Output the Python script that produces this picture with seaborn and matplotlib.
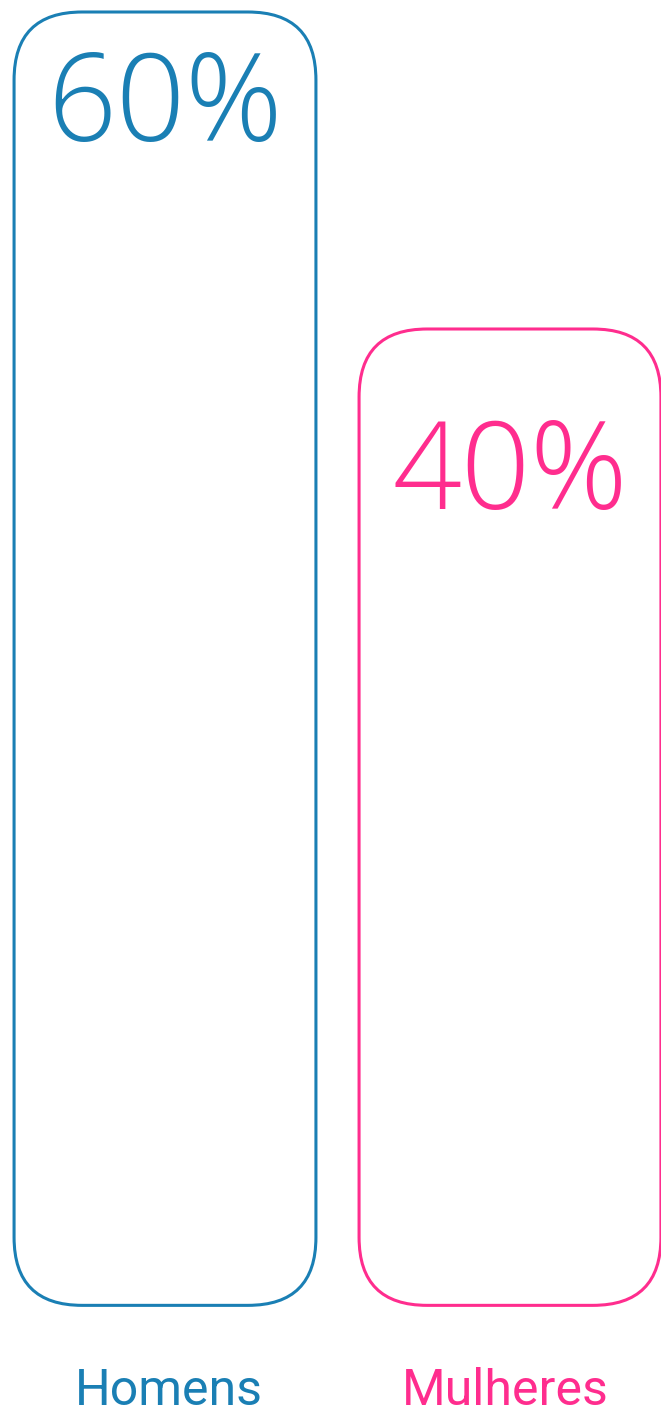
import matplotlib
matplotlib.use("Agg")
import matplotlib.pyplot as plt
from matplotlib.patches import FancyBboxPatch
import seaborn as sns
import pandas as pd

# -------------------------------
# data
# -------------------------------
groups = ["Homens", "Mulheres"]
values = [60, 40]
labels = ["60%", "40%"]
colors = ["#1a7fb4", "#ff2d8e"]

df = pd.DataFrame({"grupo": groups, "pct": values})

# -------------------------------
# layout (pixels -> data)
# -------------------------------
W, H, DPI = 661, 1414, 100
PX_X = 345.0       # px per category step
PX_Y = 15.85       # px per percentage point
ZERO_PX = 451.0    # pixel height (from bottom) of 0%
BASE = -21.6       # visual baseline of the boxes
RADIUS_PX = 68
TEXT_BASELINE_PX = [129, 180]   # value text baseline below box top
LABEL_SHIFT_PX = [4, -5]

sns.set_theme(style="white")
plt.rcParams["font.family"] = ["Open Sans", "DejaVu Sans"]

fig = plt.figure(figsize=(W / DPI, H / DPI), dpi=DPI)
ax = fig.add_axes([0, 0, 1, 1])

sns.barplot(data=df, x="grupo", y="pct", hue="grupo", palette=colors,
            width=0.875, legend=False, ax=ax)

ax.set_xlim(-165 / PX_X, 1 + (661 - 510) / PX_X)
ax.set_ylim(-ZERO_PX / PX_Y, (H - ZERO_PX) / PX_Y)

# swap plain bars for outlined rounded boxes
for i, bar in enumerate(list(ax.patches)):
    x0, w = bar.get_x(), bar.get_width()
    top = bar.get_height()
    bar.remove()
    box = FancyBboxPatch(
        (x0, BASE), w, top - BASE,
        boxstyle=f"round,pad=0,rounding_size={RADIUS_PX / PX_X}",
        mutation_aspect=PX_X / PX_Y,
        facecolor="none", edgecolor=colors[i], linewidth=2.2,
    )
    ax.add_patch(box)
    ax.text(x0 + w / 2, top - TEXT_BASELINE_PX[i] / PX_Y, labels[i],
            ha="center", va="baseline", fontsize=87, fontweight=300,
            color=colors[i])
    ax.text(x0 + w / 2 + LABEL_SHIFT_PX[i] / PX_X, (9 - ZERO_PX) / PX_Y,
            groups[i], ha="center", va="baseline", fontsize=36,
            color=colors[i], family=["Roboto", "DejaVu Sans"])

ax.set_axis_off()
fig.savefig("out.png", dpi=DPI)
